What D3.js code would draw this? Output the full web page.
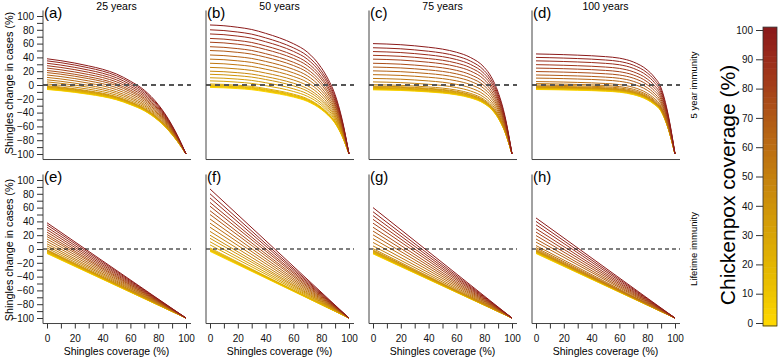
<!DOCTYPE html>
<html>
<head>
<meta charset="utf-8">
<script src="https://cdn.jsdelivr.net/npm/d3@7"></script>
<style>
  body { margin: 0; background: #fff; }
  svg { display: block; font-family: "Liberation Sans", Arial, sans-serif; }
</style>
</head>
<body>
<svg id="chart" width="778" height="360"></svg>
<script>
// chickenpox coverage of each line (%), one line per value
const chickenpoxCoverage = [0, 5, 10, 15, 20, 25, 30, 35, 40, 45, 50, 55, 60, 65, 70, 75, 80, 85, 90, 95, 100];

// change in shingles cases (%) at 0% shingles coverage, per chickenpox coverage
const start25  = [-6.5, -6, -5.5, -5, -4.5, -3.5, -3, -2, -1, 1.5, 4.5, 7.5, 11, 14.5, 18, 21, 24.5, 28, 31.5, 35, 38];
const start50  = [-3.5, -2.5, -2, -1, 0, 1.5, 6, 10.5, 15.5, 20, 25.5, 31.5, 37.5, 43.5, 50, 55.5, 62, 67.5, 74, 80, 87];
const start75  = [-7, -6.5, -6, -5.5, -5, -4.5, -3.5, -2.5, -1.5, 0.5, 4.5, 9.5, 15, 20.5, 26, 31.5, 37.5, 43, 48.5, 54, 60];
const start100 = [-6.5, -6, -5.5, -5, -4.5, -4, -3.5, -3, -2.5, -1.5, 0, 2, 5, 10, 14.5, 19.5, 24.5, 29.5, 35, 40, 45];

// 5 year immunity: share of the way down to -100 reached at each shingles coverage
const shinglesGrid = [0, 10, 20, 30, 40, 50, 60, 70, 80, 85, 90, 95, 100];
const decline25  = [0, 0.02, 0.045, 0.075, 0.11, 0.16, 0.235, 0.33, 0.48, 0.58, 0.70, 0.84, 1];
const decline50  = [0, 0.006, 0.018, 0.035, 0.065, 0.10, 0.145, 0.21, 0.33, 0.42, 0.54, 0.73, 1];
const decline75  = [0, 0.004, 0.01, 0.02, 0.033, 0.05, 0.078, 0.125, 0.215, 0.30, 0.44, 0.66, 1];
const decline100 = [0, 0.003, 0.007, 0.012, 0.018, 0.027, 0.042, 0.08, 0.16, 0.23, 0.34, 0.60, 1];

const columnTitles = ["25 years", "50 years", "75 years", "100 years"];
const topLetters = ["(a)", "(b)", "(c)", "(d)"];
const bottomLetters = ["(e)", "(f)", "(g)", "(h)"];
const rowLabels = ["5 year immunity", "Lifetime immunity"];

const xTicks = [0, 10, 20, 30, 40, 50, 60, 70, 80, 90, 100];
const yTicks = [-100, -90, -80, -70, -60, -50, -40, -30, -20, -10, 0, 10, 20, 30, 40, 50, 60, 70, 80, 90, 100];
const colourTicks = [0, 10, 20, 30, 40, 50, 60, 70, 80, 90, 100];
const colourBands = [0, 2, 4, 6, 8, 10, 12, 14, 16, 18, 20, 22, 24, 26, 28, 30, 32, 34, 36, 38, 40, 42, 44, 46, 48, 50,
                     52, 54, 56, 58, 60, 62, 64, 66, 68, 70, 72, 74, 76, 78, 80, 82, 84, 86, 88, 90, 92, 94, 96, 98, 100];
const colourStops = ["#FFD800", "#EDC400", "#E3B500", "#D8A406", "#CE930A", "#C4800E", "#BB6D12", "#B05A16", "#A5401A", "#9B2B1B", "#8B1A1A"];

const svg = d3.select("#chart");
const colour = d3.scaleSequential(d3.interpolateRgbBasis(colourStops)).domain([0, 100]);

const starts = [start25, start50, start75, start100];
const declines = [decline25, decline50, decline75, decline100];
const fmt = d3.format("d");

function draw_panel(col, row) {
    const left = 43 + col * 163;
    const top = row === 0 ? 16 : 180;
    const x = d3.scaleLinear().domain([0, 100]).range([left + 4, left + 143]);
    const y = d3.scaleLinear().domain([-100, 100]).range([top + 138, top]);
    const g = svg.append("g");

    const line = d3.line()
        .x(d => x(d[0]))
        .y(d => y(d[1]))
        .curve(d3.curveMonotoneX);

    chickenpoxCoverage.forEach((c, i) => {
        const s = starts[col][i];
        const pts = row === 0
            ? shinglesGrid.map((v, j) => [v, s + (-100 - s) * declines[col][j]])
            : [[0, s], [100, -100]];
        g.append("path")
            .attr("d", line(pts))
            .attr("fill", "none")
            .attr("stroke", colour(c))
            .attr("stroke-width", 1);
    });

    // zero line
    g.append("line")
        .attr("x1", left).attr("x2", left + 148)
        .attr("y1", y(0)).attr("y2", y(0))
        .attr("stroke", row === 0 ? "#555" : "#000")
        .attr("stroke-width", row === 0 ? 2 : 1.2)
        .attr("stroke-dasharray", row === 0 ? "5,4" : "4,3");

    // L-shaped box
    const yb = y(-108), yt = y(108);
    g.append("path")
        .attr("d", `M${left},${yt}V${yb}H${left + 148}`)
        .attr("fill", "none")
        .attr("stroke", "#444")
        .attr("stroke-width", 1);

    if (col === 0) {
        g.append("g")
            .attr("transform", `translate(${left},0)`)
            .call(d3.axisLeft(y).tickValues(yTicks).tickSize(6).tickPadding(3)
                .tickFormat(d => d % 20 === 0 ? fmt(d) : ""))
            .call(a => a.select(".domain").remove())
            .call(a => a.selectAll("line").attr("stroke", "#333"))
            .call(a => a.selectAll("text").attr("font-size", 10).attr("fill", "#111").attr("font-family", null));

        g.append("text")
            .attr("transform", `translate(13,${row === 0 ? 83 : 250}) rotate(-90)`)
            .attr("text-anchor", "middle")
            .attr("font-size", 10.8)
            .text("Shingles change in cases (%)");
    }

    if (row === 1) {
        g.append("g")
            .attr("transform", `translate(0,${yb})`)
            .call(d3.axisBottom(x).tickValues(xTicks).tickSize(5).tickPadding(6)
                .tickFormat(d => d % 20 === 0 ? fmt(d) : ""))
            .call(a => a.select(".domain").remove())
            .call(a => a.selectAll("line").attr("stroke", "#333"))
            .call(a => a.selectAll("text").attr("font-size", 10).attr("fill", "#111").attr("font-family", null));

        g.append("text")
            .attr("x", x(50))
            .attr("y", 355)
            .attr("text-anchor", "middle")
            .attr("font-size", 10.5)
            .text("Shingles coverage (%)");
    } else {
        g.append("text")
            .attr("x", x(50))
            .attr("y", 9.5)
            .attr("text-anchor", "middle")
            .attr("font-size", 10.5)
            .text(columnTitles[col]);
    }

    g.append("text")
        .attr("x", left + 1)
        .attr("y", yt + 7.5)
        .attr("font-size", 15)
        .text(row === 0 ? topLetters[col] : bottomLetters[col]);

    if (col === 3) {
        g.append("text")
            .attr("transform", `translate(697,${y(0)}) rotate(-90)`)
            .attr("text-anchor", "middle")
            .attr("font-size", 9.5)
            .text(rowLabels[row]);
    }
}

for (let row = 0; row < 2; row++) {
    for (let col = 0; col < 4; col++) draw_panel(col, row);
}

// colour bar
const cy = d3.scaleLinear().domain([0, 100]).range([323, 30]);
const bar = svg.append("g");
colourBands.forEach(v => {
    bar.append("rect")
        .attr("x", 763)
        .attr("width", 14)
        .attr("y", cy(v + 1))
        .attr("height", cy(v - 1) - cy(v + 1) + 0.5)
        .attr("fill", colour(v));
});
bar.append("rect")
    .attr("x", 763).attr("width", 14)
    .attr("y", cy(101)).attr("height", cy(-1) - cy(101))
    .attr("fill", "none")
    .attr("stroke", "#333")
    .attr("stroke-width", 0.8);

bar.append("g")
    .attr("transform", "translate(763,0)")
    .call(d3.axisLeft(cy).tickValues(colourTicks).tickSize(7).tickPadding(3))
    .call(a => a.select(".domain").remove())
    .call(a => a.selectAll("line").attr("stroke", "#333"))
    .call(a => a.selectAll("text").attr("font-size", 10).attr("fill", "#111").attr("font-family", null));

svg.append("text")
    .attr("transform", "translate(735,185) rotate(-90)")
    .attr("text-anchor", "middle")
    .attr("font-size", 21)
    .text("Chickenpox coverage (%)");
</script>
</body>
</html>
